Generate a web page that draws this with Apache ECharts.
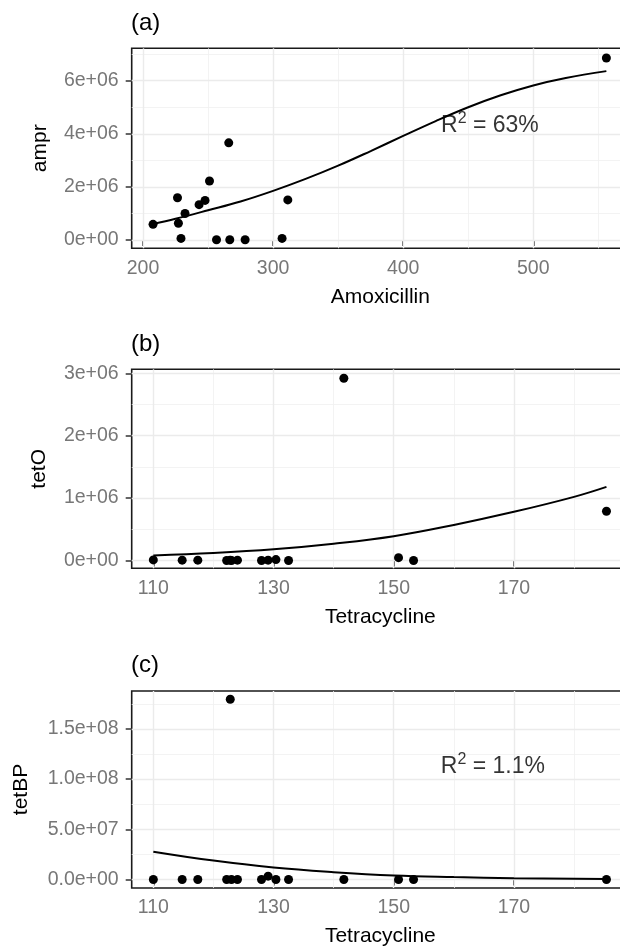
<!DOCTYPE html>
<html>
<head>
<meta charset="utf-8">
<script src="https://cdn.jsdelivr.net/npm/echarts@6/dist/echarts.min.js"></script>
<style>
  html, body { margin: 0; padding: 0; background: #fff; overflow: hidden; }
  /* a bit wider than the window: the panels' right border falls just outside the picture */
  #chart { width: 632px; height: 948px; }
</style>
</head>
<body>
<div id="chart"></div>
<script>
  // (a) Amoxicillin vs ampr
  const amoxX = [207.7, 226.5, 227.2, 229.2, 232.3, 243.1, 247.7, 251.1, 256.5, 265.9, 266.7, 278.5, 306.9, 311.3, 556.2];
  const amprY = [590000, 1590000, 630000, 60000, 1000000, 1330000, 1490000, 2220000, 10000, 3660000, 10000, 10000, 60000, 1510000, 6855000];
  const amprFitX = [207.7, 225, 250, 275, 300, 325, 350, 375, 400, 425, 450, 475, 500, 525, 556.2];
  const amprFitY = [600000, 800000, 1120000, 1450000, 1850000, 2300000, 2800000, 3350000, 3920000, 4480000, 5000000, 5450000, 5820000, 6100000, 6360000];

  // (b), (c) Tetracycline vs tetO / tetBP
  const tetraX = [110.0, 114.8, 117.4, 122.2, 122.8, 123.0, 124.0, 128.0, 129.1, 130.4, 132.5, 141.7, 150.8, 153.3, 185.4];
  const tetOY = [10000, 5000, 5000, 0, 5000, 0, 5000, 0, 5000, 15000, 0, 2920000, 45000, 0, 790000];
  const tetBPY = [0, 0, 0, 0, 179600000, 0, 0, 0, 3300000, 0, 0, 0, 0, 0, 0];
  const tetOFitX = [110, 120, 130, 140, 150, 160, 170, 180, 185.4];
  const tetOFitY = [80000, 120000, 180000, 270000, 390000, 570000, 780000, 1020000, 1180000];
  const tetBPFitX = [110, 120, 130, 140, 150, 160, 170, 185.4];
  const tetBPFitY = [27700000, 18800000, 11900000, 7300000, 4000000, 2400000, 1300000, 500000];

  // ticks
  const amoxTicks = [200, 300, 400, 500];
  const amoxMinor = [250, 350, 450, 550];
  const tetraTicks = [110, 130, 150, 170];
  const tetraMinor = [120, 140, 160, 180];
  const amprTicks = [0, 2000000, 4000000, 6000000];
  const amprTickLabels = ['0e+00', '2e+06', '4e+06', '6e+06'];
  const amprMinor = [1000000, 3000000, 5000000, 7000000];
  const tetOTicks = [0, 1000000, 2000000, 3000000];
  const tetOTickLabels = ['0e+00', '1e+06', '2e+06', '3e+06'];
  const tetOMinor = [500000, 1500000, 2500000];
  const tetBPTicks = [0, 50000000, 100000000, 150000000];
  const tetBPTickLabels = ['0.0e+00', '5.0e+07', '1.0e+08', '1.5e+08'];
  const tetBPMinor = [25000000, 75000000, 125000000, 175000000];

  // R² annotations
  const r2Text = ['63%', '1.1%'];
  const r2Pos = [[466.7, 4305000], [166.5, 112600000]];

  const FONT = '"Liberation Sans", Arial, sans-serif';
  const chart = echarts.init(document.getElementById('chart'));

  const grids = [
    { left: 131.7, right: 3, top: 48.3, height: 200 },
    { left: 131.7, right: 3, top: 369.3, height: 199 },
    { left: 131.7, right: 3, top: 691, height: 198.3 }
  ].map(g => Object.assign(g, { show: true, borderColor: '#1a1a1a', borderWidth: 1.6, backgroundColor: '#fff' }));

  function xAxis(idx, min, max, ticks, name) {
    return {
      type: 'value', gridIndex: idx, min: min, max: max,
      name: name, nameLocation: 'middle', nameGap: 38,
      nameTextStyle: { fontFamily: FONT, fontSize: 21, color: '#000' },
      axisLine: { show: false },
      splitLine: { show: false },
      axisTick: { show: true, length: 6, customValues: ticks, lineStyle: { color: '#333', width: 1.5 } },
      axisLabel: { customValues: ticks, margin: 10, fontFamily: FONT, fontSize: 19.5, color: '#777' }
    };
  }

  function yAxis(idx, min, max, ticks, labels, name, gap) {
    return {
      type: 'value', gridIndex: idx, min: min, max: max,
      name: name, nameLocation: 'middle', nameGap: gap,
      nameTextStyle: { fontFamily: FONT, fontSize: 21, color: '#000' },
      axisLine: { show: false },
      splitLine: { show: false },
      axisTick: { show: true, length: 6, customValues: ticks, lineStyle: { color: '#333', width: 1.5 } },
      axisLabel: {
        customValues: ticks, margin: 13, fontFamily: FONT, fontSize: 19.5, color: '#777',
        formatter: v => labels[ticks.indexOf(v)]
      }
    };
  }

  function gridLines(idx, majX, minX, majY, minY) {
    const major = { color: '#ebebeb', width: 1.4, type: 'solid' };
    const minor = { color: '#f0f0f0', width: 0.8, type: 'solid' };
    const data = [];
    minX.forEach(v => data.push({ xAxis: v, lineStyle: minor }));
    minY.forEach(v => data.push({ yAxis: v, lineStyle: minor }));
    majX.forEach(v => data.push({ xAxis: v, lineStyle: major }));
    majY.forEach(v => data.push({ yAxis: v, lineStyle: major }));
    return {
      type: 'line', xAxisIndex: idx, yAxisIndex: idx, data: [], z: 1, silent: true,
      markLine: { silent: true, z: 1, symbol: 'none', label: { show: false }, animation: false, data: data }
    };
  }

  function points(idx, xs, ys) {
    return {
      type: 'scatter', xAxisIndex: idx, yAxisIndex: idx, z: 6,
      symbolSize: 9, itemStyle: { color: '#000', opacity: 1 },
      data: xs.map((x, i) => [x, ys[i]])
    };
  }

  function fit(idx, xs, ys) {
    return {
      type: 'line', xAxisIndex: idx, yAxisIndex: idx, z: 7, smooth: 0.4,
      showSymbol: false, symbol: 'none', lineStyle: { color: '#000', width: 2 },
      data: xs.map((x, i) => [x, ys[i]])
    };
  }

  function r2(idx, pos, txt) {
    return {
      type: 'scatter', xAxisIndex: idx, yAxisIndex: idx, z: 8, silent: true,
      symbolSize: 1, itemStyle: { color: 'rgba(0,0,0,0)' },
      label: {
        show: true, position: 'inside', formatter: '{r|R}{s|2}{t| = ' + txt + '}',
        rich: {
          r: { fontFamily: FONT, fontSize: 23, lineHeight: 30, color: '#000' },
          s: { fontFamily: FONT, fontSize: 16, lineHeight: 16, verticalAlign: 'top', color: '#000' },
          t: { fontFamily: FONT, fontSize: 23, lineHeight: 30, color: '#000' }
        }
      },
      data: [pos]
    };
  }

  const titleStyle = { fontFamily: FONT, fontSize: 24, fontWeight: 'normal', color: '#000', lineHeight: 24 };

  const option = {
    animation: false,
    backgroundColor: '#fff',
    title: [
      { text: '(a)', left: 131, top: 11, padding: 0, textStyle: titleStyle },
      { text: '(b)', left: 131, top: 332, padding: 0, textStyle: titleStyle },
      { text: '(c)', left: 131, top: 653.5, padding: 0, textStyle: titleStyle }
    ],
    grid: grids,
    xAxis: [
      xAxis(0, 191.3, 573.6, amoxTicks, 'Amoxicillin'),
      xAxis(1, 106.4, 189.15, tetraTicks, 'Tetracycline'),
      xAxis(2, 106.4, 189.15, tetraTicks, 'Tetracycline')
    ],
    yAxis: [
      yAxis(0, -312600, 7220000, amprTicks, amprTickLabels, 'ampr', 81),
      yAxis(1, -125000, 3064000, tetOTicks, tetOTickLabels, 'tetO', 82),
      yAxis(2, -8500000, 187800000, tetBPTicks, tetBPTickLabels, 'tetBP', 100)
    ],
    series: [
      gridLines(0, amoxTicks, amoxMinor, amprTicks, amprMinor),
      gridLines(1, tetraTicks, tetraMinor, tetOTicks, tetOMinor),
      gridLines(2, tetraTicks, tetraMinor, tetBPTicks, tetBPMinor),
      points(0, amoxX, amprY),
      points(1, tetraX, tetOY),
      points(2, tetraX, tetBPY),
      fit(0, amprFitX, amprFitY),
      fit(1, tetOFitX, tetOFitY),
      fit(2, tetBPFitX, tetBPFitY),
      r2(0, r2Pos[0], r2Text[0]),
      r2(2, r2Pos[1], r2Text[1])
    ]
  };

  chart.setOption(option);
  window.addEventListener('resize', function () {
    chart.resize();
  });
</script>
</body>
</html>
